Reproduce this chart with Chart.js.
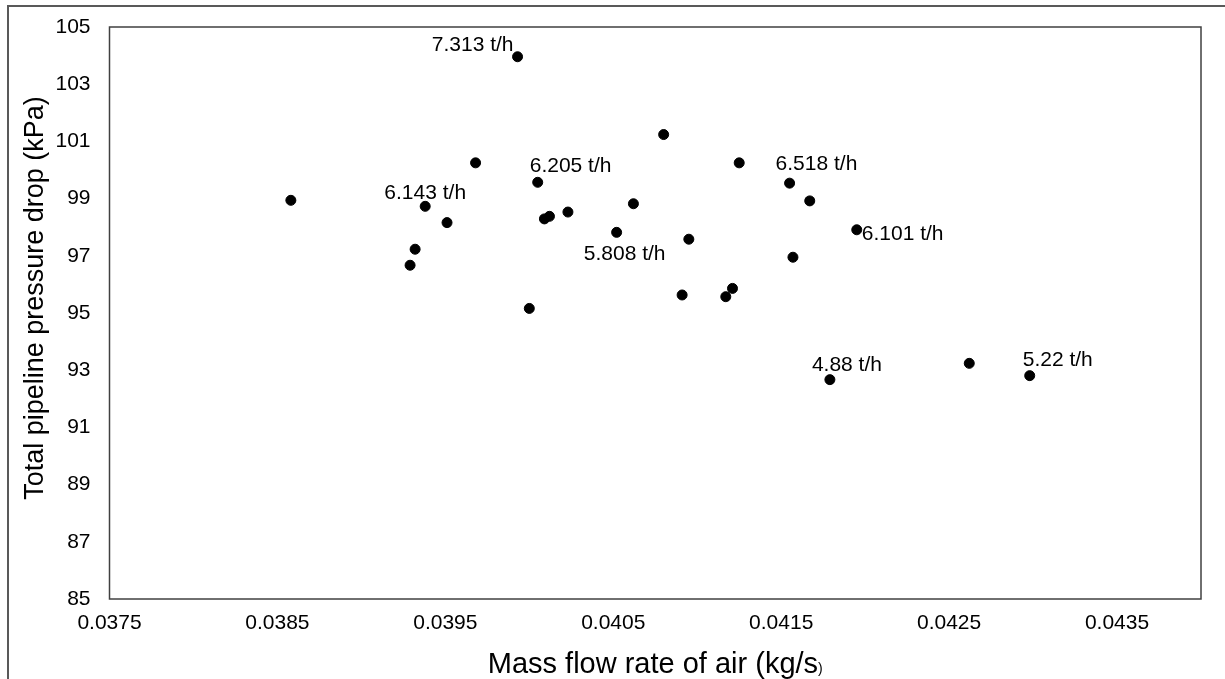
<!DOCTYPE html>
<html>
<head>
<meta charset="utf-8">
<title>Pressure drop vs air mass flow</title>
<script src="https://cdn.jsdelivr.net/npm/chart.js@4.4.1/dist/chart.umd.min.js"></script>
<style>
  body { margin: 0; background: #fff; }
  #wrap { width: 1225px; height: 679px; }
</style>
</head>
<body>
<div id="wrap"><canvas id="pressureChart" width="1225" height="679"></canvas></div>
<script>
// Data
const airFlow = [0.03858, 0.03929, 0.03932, 0.03938, 0.03951, 0.03968, 0.03993, 0.04000, 0.04005,
    0.04009, 0.04012, 0.04023, 0.04052, 0.04062, 0.04080, 0.04091, 0.04095, 0.04117, 0.04121,
    0.04125, 0.04155, 0.04157, 0.04167, 0.04195, 0.04179, 0.04262, 0.04298];
const pressureDrop = [98.94, 96.67, 97.23, 98.73, 98.16, 100.25, 103.96, 95.16, 99.57,
    98.29, 98.38, 98.53, 97.82, 98.82, 101.24, 95.63, 97.58, 95.57, 95.86,
    100.25, 99.54, 96.95, 98.92, 97.91, 92.67, 93.24, 92.81];
const solidRate = [null, null, null, '6.143 t/h', null, null, '7.313 t/h', null, '6.205 t/h',
    null, null, null, '5.808 t/h', null, null, null, null, null, null,
    null, '6.518 t/h', null, null, '6.101 t/h', '4.88 t/h', null, '5.22 t/h'];
const xTicks = [0.0375, 0.0385, 0.0395, 0.0405, 0.0415, 0.0425, 0.0435];

// where each point label sits relative to its dot: [dx, dy, align]
const labelPlace = {
    3: [0, -13, 'center'],
    6: [-4, -12, 'right'],
    8: [-8, -16, 'left'],
    12: [8, 22, 'center'],
    20: [-14, -19, 'left'],
    23: [5, 4, 'left'],
    24: [-18, -14, 'left'],
    26: [-7, -15, 'left']
};

const FONT = '"Liberation Sans", Arial, sans-serif';

const points = airFlow.map((x, i) => ({ x: x, y: pressureDrop[i] }));

// frame, outer border, point labels and axis titles
const decorations = {
    id: 'decorations',
    afterDatasetsDraw(chart) {
        const ctx = chart.ctx;
        const area = chart.chartArea;
        ctx.save();

        // outer chart border
        ctx.strokeStyle = '#595959';
        ctx.lineWidth = 2;
        ctx.beginPath();
        ctx.moveTo(8, 679);
        ctx.lineTo(8, 6);
        ctx.lineTo(1225, 6);
        ctx.stroke();

        // plot frame
        ctx.strokeStyle = '#404040';
        ctx.lineWidth = 1.5;
        ctx.strokeRect(area.left, area.top, area.right - area.left, area.bottom - area.top);

        // point labels
        const meta = chart.getDatasetMeta(0);
        ctx.fillStyle = '#000';
        ctx.font = '21px ' + FONT;
        ctx.textBaseline = 'middle';
        solidRate.forEach((txt, i) => {
            if (!txt) return;
            const el = meta.data[i];
            const p = labelPlace[i] || [0, -14, 'center'];
            ctx.textAlign = p[2];
            ctx.fillText(txt, el.x + p[0], el.y + p[1]);
        });

        // x axis title, with the small closing bracket
        const xMain = 'Mass flow rate of air (kg/s';
        ctx.font = '29px ' + FONT;
        const wMain = ctx.measureText(xMain).width;
        ctx.font = '14px ' + FONT;
        const wTail = ctx.measureText(')').width;
        const cx = (area.left + area.right) / 2;
        let startX = cx - (wMain + wTail) / 2;
        ctx.textAlign = 'left';
        ctx.textBaseline = 'alphabetic';
        ctx.font = '29px ' + FONT;
        ctx.fillText(xMain, startX, 673);
        ctx.font = '14px ' + FONT;
        ctx.fillText(')', startX + wMain, 673);

        // y axis title
        ctx.translate(36, 298);
        ctx.rotate(-Math.PI / 2);
        ctx.font = '27px ' + FONT;
        ctx.textAlign = 'center';
        ctx.textBaseline = 'middle';
        ctx.fillText('Total pipeline pressure drop (kPa)', 0, 0);

        ctx.restore();
    }
};

new Chart(document.getElementById('pressureChart'), {
    type: 'scatter',
    data: {
        datasets: [{
            label: 'Pressure drop',
            data: points,
            backgroundColor: '#000',
            borderColor: '#000',
            pointRadius: 5,
            pointHoverRadius: 5
        }]
    },
    options: {
        responsive: false,
        animation: false,
        devicePixelRatio: 1,
        layout: { padding: { top: 27, right: 24, left: 0, bottom: 0 } },
        plugins: {
            legend: { display: false },
            tooltip: { enabled: false }
        },
        scales: {
            x: {
                type: 'linear',
                min: 0.0375,
                max: 0.044,
                grid: { display: false, drawTicks: false },
                border: { display: false },
                afterBuildTicks: (scale) => {
                    scale.ticks = xTicks.map(v => ({ value: v }));
                },
                afterFit: (scale) => { scale.height = 80; },
                ticks: {
                    padding: 12,
                    maxRotation: 0,
                    autoSkip: false,
                    color: '#000',
                    font: { family: FONT, size: 21 },
                    callback: (v) => Number(v).toFixed(4)
                }
            },
            y: {
                min: 85,
                max: 105,
                grid: { display: false, drawTicks: false },
                border: { display: false },
                afterFit: (scale) => {
                    scale.width = 109.5;
                    scale.paddingTop = 0;
                    scale.paddingBottom = 0;
                },
                ticks: {
                    stepSize: 2,
                    padding: 19,
                    color: '#000',
                    font: { family: FONT, size: 21 }
                }
            }
        }
    },
    plugins: [decorations]
});
</script>
</body>
</html>
